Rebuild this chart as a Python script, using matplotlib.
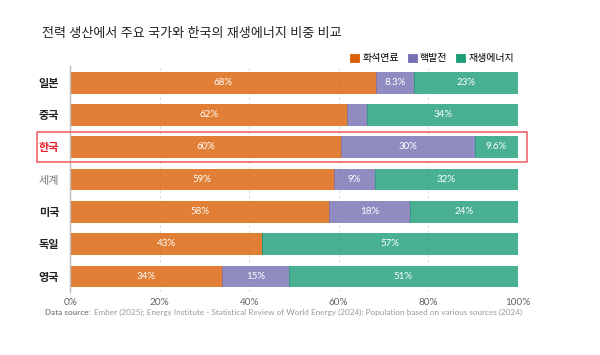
import matplotlib
matplotlib.use('Agg')
import matplotlib.pyplot as plt
from matplotlib.patches import Rectangle

plt.rcParams['font.family'] = ['Lato', 'Noto Sans CJK KR', 'DejaVu Sans']

countries = ['일본', '중국', '한국', '세계', '미국', '독일', '영국']
fossil = [68.4, 61.8, 60.4, 59.0, 57.8, 42.9, 34.0]
nuclear = [8.3, 4.6, 30.0, 9.0, 18.2, 0.0, 14.9]
renew = [23.3, 33.6, 9.6, 32.0, 24.0, 57.1, 51.1]
fossil_lbl = ['68%', '62%', '60%', '59%', '58%', '43%', '34%']
nuclear_lbl = ['8.3%', '', '30%', '9%', '18%', '', '15%']
renew_lbl = ['23%', '34%', '9.6%', '32%', '24%', '57%', '51%']

series = ['화석연료', '핵발전', '재생에너지']
colors = ['#d95f02', '#7570b3', '#1b9e77']

fig = plt.figure(figsize=(6, 3.55), dpi=100)
ax = fig.add_axes([0.117, 0.177, 0.746, 0.637])

y = list(range(len(countries)))
left = [0] * len(countries)
for vals, lbls, c, name in zip([fossil, nuclear, renew],
                               [fossil_lbl, nuclear_lbl, renew_lbl],
                               colors, series):
    bars = ax.barh(y, vals, left=left, height=0.64, color=c, alpha=0.8,
                   edgecolor=c, linewidth=0.6, label=name, zorder=2)
    for b, t in zip(bars, lbls):
        if t:
            ax.text(b.get_x() + b.get_width() / 2, b.get_y() + b.get_height() / 2,
                    t, ha='center', va='center', color='white', fontsize=7)
    left = [l + v for l, v in zip(left, vals)]

ax.set_xlim(0, 100)
ax.set_ylim(6.5, -0.5)
ax.set_xticks([0, 20, 40, 60, 80, 100])
ax.set_xticklabels(['0%', '20%', '40%', '60%', '80%', '100%'])
ax.set_yticks(y)
ax.set_yticklabels(countries)
ax.tick_params(axis='x', length=0, labelsize=7.2, labelcolor='#666666', pad=4)
ax.tick_params(axis='y', length=0, labelsize=8, pad=8)
for lbl in ax.get_yticklabels():
    lbl.set_fontweight('bold')
    lbl.set_color('#222222')
ax.get_yticklabels()[2].set_color('#e8202a')
ax.get_yticklabels()[3].set_color('#777777')
ax.get_yticklabels()[3].set_fontweight('normal')
ax.grid(axis='x', linestyle=(0, (3, 3)), color='#dddddd', linewidth=0.7, zorder=0)
for s in ['top', 'right', 'bottom']:
    ax.spines[s].set_visible(False)
ax.spines['left'].set_color('#bbbbbb')
ax.spines['left'].set_linewidth(1)

# highlight box around Korea
ax.add_patch(Rectangle((-7.4, 1.55), 109.4, 0.93, transform=ax.transData,
                       fill=False, edgecolor='#ee5a60', linewidth=1.1,
                       clip_on=False, zorder=3))

leg = ax.legend(loc='lower right', bbox_to_anchor=(1.0, 0.995), ncol=3, frameon=False,
                fontsize=7.2, handlelength=0.9, handleheight=0.9, handletextpad=0.3,
                columnspacing=0.9, borderaxespad=0.0)
for h, c in zip(leg.legend_handles, colors):
    h.set_alpha(1)
    h.set_color(c)

fig.text(0.07, 0.907, '전력 생산에서 주요 국가와 한국의 재생에너지 비중 비교',
         fontsize=9.4, color='#222222', va='center')
fig.text(0.075, 0.12, 'Data source:', fontsize=5.9, color='#888888',
         fontweight='bold', va='center')
fig.text(0.157, 0.12,
         'Ember (2025); Energy Institute - Statistical Review of World Energy (2024); '
         'Population based on various sources (2024)',
         fontsize=5.9, color='#999999', va='center')

fig.savefig('out.png', dpi=100)
